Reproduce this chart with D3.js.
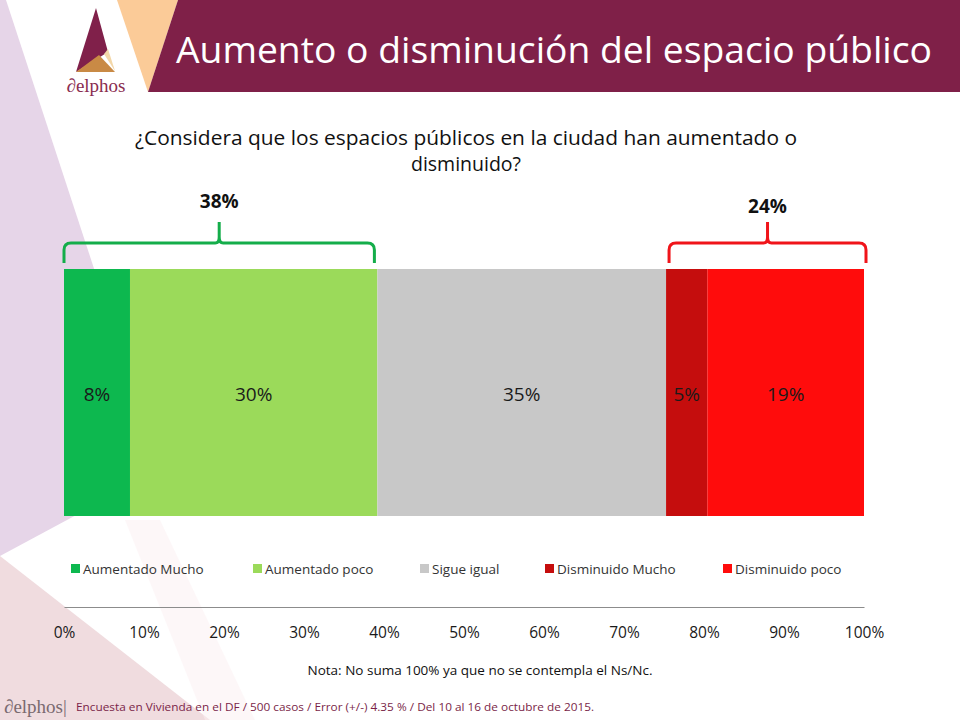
<!DOCTYPE html>
<html><head><meta charset="utf-8">
<script src="https://cdn.jsdelivr.net/npm/d3@7"></script>
<style>body{margin:0;background:#fff}svg{display:block}</style>
</head><body>
<svg id="c" width="960" height="720"></svg>
<script>
const categories = ["Aumentado Mucho","Aumentado poco","Sigue igual","Disminuido Mucho","Disminuido poco"];
const values = [8,30,35,5,19];
const colors = ["#0DB84F","#9BDA5A","#C8C8C8","#C50D0D","#FF0C0C"];
const groupLabels = ["38%","24%"];
const groupRanges = [[0,1],[3,4]];
const groupColors = ["#14AD4A","#F0141A"];
const ticks = [0,10,20,30,40,50,60,70,80,90,100];
const title = "Aumento o disminución del espacio público";
const question = ["¿Considera que los espacios públicos en la ciudad han aumentado o","disminuido?"];
const note = "Nota: No suma 100% ya que no se contempla el Ns/Nc.";
const footer = "Encuesta en Vivienda en el DF / 500 casos / Error (+/-) 4.35 % / Del 10 al 16 de octubre de 2015.";

const svg = d3.select("#c");
const font = "'Open Sans', sans-serif";

// background decorations
svg.append("polygon").attr("points","0,0 6,0 160,470 0,556").attr("fill","#E6D5E8");
svg.append("polygon").attr("points","0,556 0,720 210,720").attr("fill","#F0DCDF");
svg.append("polygon").attr("points","125,520 160,520 255,720 205,720").attr("fill","#FCEFF1").attr("opacity",0.5);
svg.append("polygon").attr("points","117,0 178,0 148,92").attr("fill","#FBCB98");
svg.append("polygon").attr("points","178,0 960,0 960,92 148,92").attr("fill","#7F2048");
// logo
svg.append("polygon").attr("points","96,8 108,52 76,72").attr("fill","#80204A");
svg.append("polygon").attr("points","76,72 115,72 99,55").attr("fill","#C98A45");
svg.append("polygon").attr("points","104,54 108,49 115,71").attr("fill","#F3D7A8");
svg.append("text").attr("x",96).attr("y",92).attr("text-anchor","middle")
  .attr("font-family","'Liberation Serif', serif").attr("font-size",19).attr("fill","#8A2D50").text("∂elphos");

svg.append("text").attr("x",176).attr("y",63).attr("font-family",font).attr("font-size",37)
  .attr("fill","#fff").attr("textLength",756).attr("lengthAdjust","spacingAndGlyphs").text(title);

svg.append("text").attr("x",466).attr("y",145).attr("text-anchor","middle").attr("font-family",font)
  .attr("font-size",19.5).attr("fill","#111").attr("textLength",662).attr("lengthAdjust","spacingAndGlyphs").text(question[0]);
svg.append("text").attr("x",466).attr("y",171).attr("text-anchor","middle").attr("font-family",font)
  .attr("font-size",19.5).attr("fill","#111").text(question[1]);

// scales
const total = d3.sum(values);
const x = d3.scaleLinear().domain([0,total]).range([64,864]);
const xa = d3.scaleLinear().domain([0,100]).range([64,864]);
const cum = [0]; values.forEach((v,i)=>cum.push(cum[i]+v));
const y0 = 269, y1 = 516;

svg.append("g").selectAll("rect").data(values).join("rect")
  .attr("x",(d,i)=>x(cum[i])).attr("y",y0).attr("width",d=>x(d)-x(0)).attr("height",y1-y0)
  .attr("fill",(d,i)=>colors[i]);
svg.append("g").selectAll("text").data(values).join("text")
  .attr("x",(d,i)=>(x(cum[i])+x(cum[i+1]))/2).attr("y",401).attr("text-anchor","middle")
  .attr("font-family",font).attr("font-size",19).attr("fill","#1a1a1a").text(d=>d+"%");

// brackets
groupRanges.forEach((r,gi)=>{
  const a = x(cum[r[0]]) + (gi===0?0:3), b = x(cum[r[1]+1]) + (gi===0?-3:2);
  const m = (a+b)/2, t=243, bot=263, tip=222;
  const p = `M${a},${bot} L${a},${t+7} Q${a},${t} ${a+7},${t} L${m-4},${t} Q${m},${t} ${m},${t-6} L${m},${tip} M${m},${t-6} Q${m},${t} ${m+4},${t} L${b-7},${t} Q${b},${t} ${b},${t+7} L${b},${bot}`;
  svg.append("path").attr("d",p).attr("fill","none").attr("stroke",groupColors[gi]).attr("stroke-width",3);
  svg.append("text").attr("x",m).attr("y",gi===0?208:213).attr("text-anchor","middle")
    .attr("font-family",font).attr("font-weight","bold").attr("font-size",19).attr("fill","#111")
    .text(groupLabels[gi]);
});

// legend
const legX = [71,253,420,545,723];
const lg = svg.append("g").selectAll("g").data(categories).join("g")
  .attr("transform",(d,i)=>`translate(${legX[i]},569)`);
lg.append("rect").attr("x",0).attr("y",-5).attr("width",9).attr("height",9).attr("fill",(d,i)=>colors[i]);
lg.append("text").attr("x",12).attr("y",5).attr("font-family",font).attr("font-size",13.5)
  .attr("fill","#333").text(d=>d);

// axis
const ax = svg.append("g").attr("transform","translate(0,607)")
  .call(d3.axisBottom(xa).tickValues(ticks).tickSize(0).tickPadding(20).tickFormat(d=>d+"%"));
ax.select(".domain").attr("stroke","#8c8c8c").attr("stroke-width",1.2);
ax.selectAll("text").attr("font-family",font).attr("font-size",15.5).attr("fill","#1a1a1a");

svg.append("text").attr("x",480).attr("y",675).attr("text-anchor","middle").attr("font-family",font)
  .attr("font-size",13.5).attr("fill","#111").text(note);

svg.append("text").attr("x",4).attr("y",713).attr("font-family","'Liberation Serif', serif")
  .attr("font-size",19).attr("fill","#7a6a70").text("∂elphos|");
svg.append("text").attr("x",76).attr("y",711).attr("font-family",font)
  .attr("font-size",10.5).attr("fill","#7A1F48").attr("textLength",518).attr("lengthAdjust","spacingAndGlyphs").text(footer);
</script>
</body></html>
